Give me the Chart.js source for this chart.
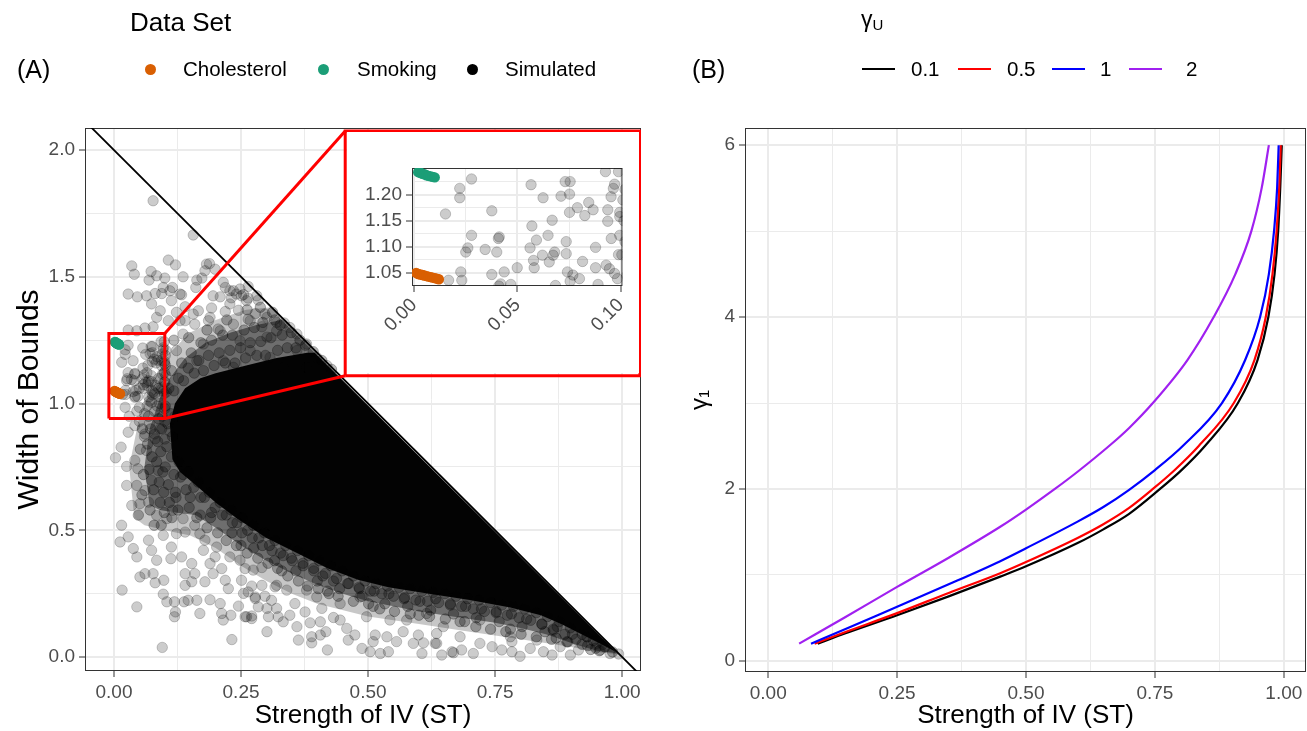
<!DOCTYPE html>
<html>
<head>
<meta charset="utf-8">
<script src="https://cdn.jsdelivr.net/npm/chart.js@4.4.1/dist/chart.umd.min.js"></script>
<style>
  body { margin: 0; background: #fff; width: 1307px; height: 731px; overflow: hidden; position: relative;
         font-family: 'Liberation Sans', Arial, Helvetica, sans-serif; }
  canvas { position: absolute; }
  .txt { position: absolute; white-space: nowrap; line-height: 1; color: #000; }
  .dot { position: absolute; width: 11px; height: 11px; border-radius: 50%; }
  .seg { position: absolute; width: 33px; height: 2.5px; }
</style>
</head>
<body>
<canvas id="left" width="650" height="731" style="left:0;top:0"></canvas>
<canvas id="right" width="657" height="731" style="left:650px;top:0"></canvas>
<canvas id="inset" width="292" height="241" style="left:347px;top:132px;background:#fff"></canvas>
<div id="legends"></div>
<script>
// ---------- panel A data ----------
const dataSetNames = ['Cholesterol', 'Smoking', 'Simulated'];
const dataSetColors = ['#D95F02', '#1B9E77', '#000000'];

const cholesterolPts = [[0.001,1.050],[0.002,1.048],[0.003,1.047],[0.004,1.046],[0.005,1.045],[0.006,1.044],
  [0.007,1.043],[0.008,1.042],[0.009,1.041],[0.010,1.040],[0.011,1.039],[0.012,1.038]];
const smokingPts = [[0.002,1.243],[0.003,1.242],[0.004,1.240],[0.005,1.239],[0.006,1.237],[0.007,1.236],
  [0.008,1.235],[0.009,1.234],[0.010,1.233]];

// simulated points lying apart from the main cloud
const simulatedSparse = [
  // upper left
  [0.077,1.800],[0.156,1.665],[0.035,1.543],[0.040,1.510],[0.107,1.566],[0.121,1.547],[0.073,1.521],[0.084,1.504],
  [0.100,1.495],[0.069,1.487],[0.136,1.500],[0.163,1.487],[0.179,1.524],[0.182,1.550],[0.199,1.530],[0.173,1.495],
  [0.028,1.432],[0.046,1.421],[0.064,1.425],[0.081,1.434],[0.094,1.434],[0.110,1.445],[0.115,1.458],[0.133,1.429],
  [0.161,1.458],[0.215,1.478],[0.219,1.458],[0.235,1.445],[0.248,1.452],[0.251,1.425],[0.195,1.425],[0.209,1.421],
  [0.231,1.417],[0.284,1.408],[0.264,1.416],[0.074,1.393],[0.091,1.366],[0.084,1.340],[0.113,1.406],[0.123,1.360],
  [0.140,1.382],[0.166,1.366],[0.192,1.377],[0.219,1.363],[0.245,1.368],[0.278,1.355],[0.301,1.340],[0.335,1.318],
  [0.028,1.290],[0.045,1.287],[0.061,1.298],[0.077,1.303],[0.107,1.327],[0.140,1.327],[0.159,1.313],[0.186,1.327],
  [0.205,1.294],[0.235,1.313],[0.264,1.333],[0.291,1.303],[0.320,1.287],[0.188,1.552],[0.228,1.445],[0.264,1.462],
  [0.255,1.430],[0.281,1.425],[0.261,1.406],[0.297,1.353],[0.320,1.320],[0.346,1.300],[0.360,1.274],[0.379,1.235],
  [0.399,1.182],[0.419,1.150],[0.333,1.143],[0.228,1.393],[0.241,1.432],[0.189,1.340],[0.156,1.353],[0.130,1.432],
  [0.097,1.458],[0.130,1.327],[0.268,1.327],[0.301,1.262],[0.209,1.287],[0.248,1.248],[0.176,1.235],[0.136,1.274],
  [0.268,1.209],[0.307,1.182],[0.360,1.209],[0.379,1.143],[0.123,1.209],[0.163,1.169],[0.215,1.169],[0.235,1.143],
  [0.041,1.025],[0.022,0.985],[0.050,0.985],[0.074,1.005],[0.060,0.960],[0.080,0.970],[0.090,1.000],[0.070,1.010],
  [0.095,0.950],[0.085,0.990],[0.030,0.950],[0.045,0.970],[0.065,0.990],[0.100,0.980],[0.100,0.930],[0.090,0.900],
  [0.070,0.920],[0.050,0.930],[0.080,0.880],[0.060,0.870],[0.100,0.860],[0.110,0.890],[0.120,0.950],
  // zoomed window (also shown in the inset)
  [0.0167,1.036],[0.0221,1.212],[0.0221,1.194],[0.0278,1.230],[0.0152,1.163],[0.0226,1.052],[0.0231,1.036],[0.025,1.090],
  [0.026,1.098],[0.0278,1.122],[0.0344,1.095],[0.0376,1.169],[0.040,1.090],[0.0408,1.116],[0.0412,1.119],[0.0376,1.047],
  [0.0436,1.052],[0.0419,1.029],[0.0468,1.028],[0.0499,1.060],[0.0566,1.219],[0.0570,1.140],[0.0592,1.113],[0.0561,1.098],
  [0.0578,1.074],[0.0581,1.060],[0.0624,1.194],[0.0621,1.084],[0.0648,1.122],[0.0668,1.151],[0.0654,1.071],[0.0673,1.084],
  [0.068,1.090],[0.0711,1.197],[0.0731,1.225],[0.0755,1.225],[0.0752,1.201],[0.0752,1.166],[0.0736,1.110],[0.0736,1.087],
  [0.0742,1.052],[0.0768,1.046],[0.079,1.175],[0.080,1.039],[0.0815,1.072],[0.0826,1.160],[0.0845,1.185],[0.0866,1.171],
  [0.0878,1.099],[0.0878,1.060],[0.089,1.028],[0.0926,1.244],[0.0937,1.171],[0.0937,1.149],[0.0953,1.196],[0.0964,1.212],
  [0.097,1.220],[0.0954,1.116],[0.0929,1.065],[0.0945,1.058],[0.097,1.049],[0.0984,1.039],[0.0989,1.244],[0.0995,1.166],
  [0.0995,1.158],[0.0995,1.122],[0.0989,1.085],[0.0755,1.034],[0.0684,1.026],[0.101,1.190],[0.102,1.210],[0.1015,1.150],
  [0.102,1.110],[0.1005,1.085],[0.103,1.045],
  // lower left
  [0.003,0.786],[0.014,0.828],[0.025,0.752],[0.041,0.776],[0.047,0.743],[0.025,0.677],[0.045,0.677],[0.035,0.598],
  [0.051,0.605],[0.015,0.520],[0.012,0.454],[0.028,0.474],[0.038,0.428],[0.045,0.395],[0.051,0.316],[0.061,0.329],
  [0.077,0.329],[0.081,0.293],[0.098,0.303],[0.016,0.264],[0.045,0.198],[0.095,0.038],[0.097,0.248],[0.104,0.218],
  [0.119,0.218],[0.121,0.178],[0.119,0.159],[0.138,0.218],[0.146,0.224],[0.163,0.224],[0.169,0.172],[0.140,0.283],
  [0.153,0.297],[0.159,0.329],[0.140,0.329],[0.133,0.395],[0.153,0.369],[0.113,0.434],[0.112,0.388],[0.084,0.382],
  [0.074,0.421],[0.068,0.461],[0.097,0.480],[0.123,0.487],[0.140,0.493],[0.159,0.520],[0.179,0.461],[0.176,0.421],
  [0.189,0.369],[0.195,0.329],[0.179,0.297],[0.189,0.226],[0.209,0.211],[0.212,0.172],[0.215,0.146],[0.230,0.165],
  [0.232,0.069],[0.245,0.201],[0.225,0.270],[0.219,0.303],[0.212,0.349],[0.228,0.395],[0.248,0.382],[0.251,0.303],
  [0.264,0.257],[0.258,0.159],[0.271,0.152],[0.278,0.237],[0.291,0.283],[0.301,0.100],[0.304,0.159],[0.284,0.198],
  [0.310,0.224],[0.320,0.283],[0.323,0.159],[0.115,0.579],[0.084,0.559],[0.068,0.611],[0.061,0.657],[0.074,0.697],
  [0.087,0.736],[0.064,0.815],[0.028,0.887],[0.041,0.913],[0.061,0.880],[0.081,0.861],[0.104,0.546],[0.136,0.546],
  [0.169,0.487],[0.199,0.395],[0.202,0.434],
  // bottom
  [0.258,0.349],[0.274,0.343],[0.291,0.353],[0.255,0.251],[0.271,0.280],[0.278,0.231],[0.297,0.240],[0.301,0.192],
  [0.261,0.159],[0.271,0.162],[0.317,0.277],[0.320,0.192],[0.333,0.139],[0.346,0.165],[0.356,0.211],[0.363,0.067],
  [0.376,0.178],[0.389,0.056],[0.386,0.135],[0.406,0.139],[0.406,0.087],[0.417,0.100],[0.409,0.192],[0.420,0.028],
  [0.432,0.156],[0.445,0.146],[0.458,0.113],[0.461,0.067],[0.474,0.087],[0.488,0.034],[0.504,0.021],[0.510,0.061],
  [0.514,0.087],[0.524,0.014],[0.540,0.021],[0.537,0.080],[0.556,0.061],[0.569,0.100],[0.589,0.054],[0.606,0.014],
  [0.609,0.056],[0.635,0.054],[0.645,0.008],[0.668,0.017],[0.599,0.087],[0.360,0.120],[0.389,0.080],[0.340,0.264],
  [0.379,0.264],[0.399,0.237],[0.445,0.211],[0.484,0.237],[0.497,0.159],[0.543,0.146],[0.576,0.146],[0.615,0.172],
  [0.648,0.120],[0.632,0.054],[0.665,0.021],[0.684,0.028],[0.707,0.014],[0.720,0.054],[0.744,0.041],[0.763,0.028],
  [0.783,0.021],[0.799,0.003],[0.819,0.034],[0.845,0.021],[0.862,0.008],[0.878,0.041],[0.898,0.008],[0.914,0.028],
  [0.957,0.028],[0.976,0.014],[0.993,0.012],[0.635,0.093],[0.681,0.080],[0.783,0.061],[0.832,0.067],[0.720,0.146],
  [0.780,0.080],[0.865,0.106],[0.930,0.080],[0.950,0.054]
];

// simulated points in the crowded band around the solid core (many overlaps)
const simulatedBand = [
  // above the core
  [0.101,0.99],[0.118,1.05],[0.137,1.09],[0.158,1.12],[0.176,1.13],[0.197,1.15],[0.219,1.16],[0.238,1.16],
  [0.259,1.18],[0.281,1.19],[0.298,1.19],[0.322,1.21],[0.341,1.22],[0.358,1.22],[0.377,1.23],[0.392,1.205],
  [0.409,1.17],[0.428,1.135],[0.108,1.06],[0.127,1.10],[0.146,1.14],[0.167,1.17],[0.186,1.19],[0.207,1.20],
  [0.228,1.21],[0.249,1.22],[0.268,1.24],[0.289,1.245],[0.309,1.26],[0.331,1.27],[0.349,1.28],[0.366,1.25],
  [0.113,1.13],[0.133,1.16],[0.152,1.20],[0.171,1.24],[0.192,1.25],[0.214,1.27],[0.233,1.27],[0.256,1.29],
  [0.276,1.30],[0.293,1.32],[0.316,1.33],[0.327,1.31],[0.118,1.25],[0.147,1.26],[0.183,1.29],[0.222,1.33],
  [0.262,1.37],[0.288,1.38],[0.312,1.36],
  // left of the core
  [0.112,0.96],[0.106,0.92],[0.115,0.87],[0.104,0.83],[0.113,0.79],[0.101,0.75],[0.118,0.72],[0.107,0.68],
  [0.121,0.65],[0.109,0.61],[0.126,0.58],[0.114,0.55],[0.088,0.94],[0.094,0.90],[0.086,0.85],[0.092,0.81],
  [0.084,0.77],[0.096,0.73],[0.089,0.69],[0.098,0.65],[0.091,0.61],[0.099,0.57],[0.093,0.52],[0.068,0.95],
  [0.072,0.90],[0.066,0.84],[0.075,0.79],[0.069,0.74],[0.078,0.66],[0.071,0.58],[0.079,0.52],[0.056,0.90],
  [0.052,0.82],[0.058,0.72],[0.055,0.64],[0.048,0.56],
  // below the core
  [0.128,0.77],[0.147,0.73],[0.166,0.69],[0.188,0.65],[0.209,0.61],[0.231,0.58],[0.252,0.55],[0.274,0.52],
  [0.296,0.49],[0.317,0.46],[0.338,0.44],[0.361,0.42],[0.383,0.40],[0.404,0.38],[0.427,0.36],[0.449,0.34],
  [0.471,0.32],[0.494,0.30],[0.516,0.29],[0.538,0.28],[0.561,0.275],[0.583,0.27],[0.606,0.26],[0.628,0.255],
  [0.651,0.25],[0.673,0.24],[0.696,0.23],[0.718,0.225],[0.741,0.215],[0.763,0.205],[0.786,0.20],[0.808,0.19],
  [0.831,0.175],[0.853,0.16],[0.876,0.14],[0.898,0.115],[0.921,0.09],[0.943,0.065],[0.966,0.04],
  [0.136,0.72],[0.157,0.67],[0.178,0.63],[0.199,0.59],[0.221,0.56],[0.242,0.53],[0.263,0.50],[0.285,0.47],
  [0.306,0.44],[0.328,0.41],[0.349,0.39],[0.372,0.37],[0.393,0.35],[0.416,0.33],[0.438,0.31],[0.460,0.29],
  [0.482,0.275],[0.505,0.26],[0.527,0.25],[0.550,0.24],[0.572,0.235],[0.594,0.225],[0.617,0.22],[0.639,0.215],
  [0.662,0.205],[0.684,0.20],[0.707,0.19],[0.729,0.18],[0.752,0.175],[0.774,0.165],[0.797,0.155],[0.820,0.145],
  [0.842,0.13],[0.864,0.11],[0.887,0.09],[0.909,0.07],[0.932,0.045],[0.955,0.025],
  [0.150,0.63],[0.190,0.55],[0.232,0.49],[0.275,0.43],[0.316,0.38],[0.358,0.34],[0.400,0.30],[0.444,0.27],
  [0.488,0.24],[0.533,0.21],[0.578,0.20],[0.623,0.185],[0.668,0.17],[0.713,0.155],[0.758,0.14],[0.803,0.12],
  [0.848,0.10],[0.893,0.06],[0.938,0.03],[0.170,0.56],[0.250,0.44],[0.330,0.34],[0.420,0.26],[0.510,0.20],
  [0.600,0.165],[0.690,0.14],[0.780,0.11],[0.870,0.075],
  [0.122,0.63],[0.131,0.71],[0.142,0.66],[0.148,0.59],[0.163,0.55],[0.171,0.63],[0.183,0.51],[0.192,0.57],
  [0.204,0.49],[0.213,0.56],[0.221,0.46],[0.233,0.53],[0.241,0.44],[0.252,0.49],[0.262,0.41],[0.272,0.47],
  [0.283,0.39],[0.292,0.44],[0.303,0.37],[0.311,0.42],[0.322,0.35],[0.333,0.40],[0.342,0.32],[0.351,0.38],
  [0.363,0.30],[0.372,0.36],[0.381,0.28],[0.393,0.34],[0.402,0.27],[0.411,0.32],[0.423,0.25],[0.432,0.30],
  [0.441,0.24],[0.462,0.29],[0.471,0.22],[0.483,0.27],[0.501,0.21],[0.512,0.26],[0.523,0.19],[0.541,0.25],
  [0.552,0.18],[0.571,0.23],[0.583,0.17],[0.602,0.22],[0.621,0.16],[0.633,0.23],[0.652,0.15],[0.662,0.21],
  [0.681,0.14],[0.692,0.20],[0.712,0.12],[0.723,0.19],[0.741,0.11],[0.752,0.18],[0.771,0.10],[0.782,0.17],
  [0.801,0.09],[0.812,0.15],[0.831,0.08],[0.842,0.13],[0.861,0.07],[0.872,0.12],[0.891,0.06],[0.902,0.09],
  [0.921,0.05],[0.931,0.08],[0.948,0.035],[0.962,0.05],[0.981,0.02]
];

// outlines of the overlap zones: solid core, dark grey halo, light grey outer halo
const denseCore = [[0.115,0.78],[0.11,0.92],[0.12,1.0],[0.14,1.06],[0.17,1.10],[0.20,1.12],[0.26,1.15],
  [0.32,1.18],[0.38,1.20],[0.395,1.20],[0.988,0.02],[0.96,0.05],[0.92,0.09],[0.88,0.13],[0.84,0.165],
  [0.78,0.195],[0.70,0.225],[0.62,0.25],[0.54,0.275],[0.48,0.305],[0.42,0.35],[0.36,0.41],[0.30,0.47],
  [0.24,0.55],[0.20,0.61],[0.16,0.68],[0.13,0.73],[0.115,0.78]];
const denseHalo = [[0.07,0.60],[0.06,0.75],[0.07,0.90],[0.09,1.02],[0.11,1.10],[0.14,1.18],[0.18,1.24],
  [0.23,1.28],[0.28,1.31],[0.33,1.33],[0.99,0.015],[0.95,0.025],[0.90,0.055],[0.85,0.09],[0.80,0.115],
  [0.75,0.135],[0.70,0.15],[0.65,0.165],[0.60,0.18],[0.55,0.20],[0.50,0.22],[0.45,0.25],[0.40,0.285],
  [0.35,0.33],[0.30,0.38],[0.25,0.44],[0.20,0.51],[0.16,0.56],[0.12,0.57],[0.09,0.58],[0.07,0.60]];
const outerHalo = [[0.04,0.55],[0.03,0.75],[0.05,0.95],[0.08,1.10],[0.11,1.20],[0.15,1.28],[0.20,1.33],
  [0.26,1.37],[0.31,1.38],[0.995,0.01],[0.95,0.02],[0.90,0.04],[0.80,0.07],[0.70,0.10],[0.60,0.13],
  [0.50,0.16],[0.40,0.21],[0.35,0.25],[0.30,0.30],[0.25,0.36],[0.20,0.43],[0.15,0.48],[0.10,0.50],
  [0.06,0.52],[0.04,0.55]];

const boundLine = [[-0.05,2.10],[1.04,-0.08]];
const zoomBox = [[-0.010,0.941],[0.100,0.941],[0.100,1.276],[-0.010,1.276],[-0.010,0.941]];
const insetFrame = [[0.455,1.110],[1.035,1.110],[1.035,2.075],[0.455,2.075],[0.455,1.110]];
const zoomLinkTop = [[0.100,1.276],[0.455,2.075]];
const zoomLinkBottom = [[0.100,0.941],[0.455,1.110]];

// ---------- panel B data ----------
const gammaULevels = ['0.1', '0.5', '1', '2'];
const gammaUColors = ['#000000', '#FF0000', '#0000FF', '#A020F0'];
const curve01 = [[0.096,0.2],[0.15,0.32],[0.25,0.53],[0.35,0.75],[0.45,0.98],[0.5,1.10],[0.6,1.37],[0.65,1.53],
  [0.7,1.71],[0.76,2.0],[0.8,2.21],[0.847,2.5],[0.911,3.0],[0.949,3.5],[0.970,4.0],[0.982,4.5],[0.989,5.0],
  [0.993,5.5],[0.996,6.0]];
const curve05 = [[0.09,0.2],[0.15,0.335],[0.25,0.555],[0.35,0.79],[0.45,1.02],[0.5,1.15],[0.6,1.43],[0.65,1.59],
  [0.7,1.78],[0.746,2.0],[0.79,2.23],[0.835,2.5],[0.903,3.0],[0.943,3.5],[0.965,4.0],[0.978,4.5],[0.986,5.0],
  [0.991,5.5],[0.994,6.0]];
const curve1 = [[0.083,0.2],[0.15,0.37],[0.25,0.63],[0.35,0.89],[0.45,1.16],[0.5,1.31],[0.6,1.62],[0.65,1.79],
  [0.7,1.99],[0.75,2.22],[0.804,2.5],[0.88,3.0],[0.925,3.5],[0.954,4.0],[0.971,4.5],[0.981,5.0],[0.987,5.5],
  [0.990,6.0]];
const curve2 = [[0.06,0.2],[0.15,0.51],[0.25,0.86],[0.35,1.2],[0.45,1.56],[0.5,1.76],[0.556,2.0],[0.6,2.2],
  [0.665,2.52],[0.7,2.71],[0.746,3.0],[0.813,3.5],[0.864,4.0],[0.906,4.5],[0.937,5.0],[0.957,5.5],[0.971,6.0]];
const gammaCurves = [curve01, curve05, curve1, curve2];

// ---------- ticks ----------
const stTicks = [0, 0.25, 0.5, 0.75, 1], stLabels = ['0.00', '0.25', '0.50', '0.75', '1.00'];
const stMinor = [0.125, 0.375, 0.625, 0.875];
const widthTicks = [0, 0.5, 1, 1.5, 2], widthLabels = ['0.0', '0.5', '1.0', '1.5', '2.0'];
const widthMinor = [0.25, 0.75, 1.25, 1.75];
const gammaTicks = [0, 2, 4, 6], gammaLabels = ['0', '2', '4', '6'], gammaMinor = [1, 3, 5];
const insetXTicks = [0, 0.05, 0.1], insetXLabels = ['0.00', '0.05', '0.10'], insetXMinor = [0.025, 0.075];
const insetYTicks = [1.05, 1.1, 1.15, 1.2], insetYLabels = ['1.05', '1.10', '1.15', '1.20'];
const insetYMinor = [1.075, 1.125, 1.175, 1.225];

const FONT = "'Liberation Sans', Arial, Helvetica, sans-serif";
const xy = pts => pts.map(p => ({x: p[0], y: p[1]}));

function axis(major, labels, minor, min, max, size, title, extra) {
  const isMajor = v => major.some(m => Math.abs(m - v) < 1e-9);
  const ax = {
    type: 'linear', min: min, max: max,
    afterBuildTicks: s => { s.ticks = major.concat(minor).sort((a, b) => a - b).map(v => ({value: v})); },
    afterFit: s => { if (s.isHorizontal()) s.height = size; else s.width = size; },
    ticks: {
      autoSkip: false, maxRotation: 0, minRotation: 0, padding: 4, color: '#4D4D4D',
      font: {family: FONT, size: 19},
      callback: v => { const i = major.findIndex(m => Math.abs(m - v) < 1e-9); return i < 0 ? '' : labels[i]; }
    },
    grid: {
      color: '#EBEBEB',
      lineWidth: c => (c.tick && isMajor(c.tick.value)) ? 2 : 1,
      tickLength: 6, tickWidth: 1,
      tickColor: c => (c.tick && isMajor(c.tick.value)) ? '#333333' : 'rgba(0,0,0,0)'
    },
    border: {display: false}
  };
  if (title) ax.title = title;
  if (extra) Object.assign(ax.ticks, extra);
  return ax;
}

const panelBorder = {
  id: 'panelBorder',
  beforeDatasetsDraw(chart) {
    const {ctx, chartArea: a} = chart;
    ctx.save();
    ctx.strokeStyle = '#333333';
    ctx.lineWidth = 1;
    ctx.strokeRect(a.left + 0.5, a.top + 0.5, a.width - 1, a.height - 1);
    ctx.restore();
  }
};

const common = {
  responsive: false, animation: false, devicePixelRatio: 1, events: [],
  plugins: {legend: {display: false}, tooltip: {enabled: false}}
};

const redLine = pts => ({type: 'line', data: xy(pts), borderColor: '#FF0000', borderWidth: 3,
  pointRadius: 0, fill: false, borderJoinStyle: 'miter', clip: 0});
const solidPts = (pts, col, r) => ({type: 'scatter', data: xy(pts), backgroundColor: col, borderColor: col,
  borderWidth: 0, pointRadius: r, clip: 0});
const simPts = (pts, a, r) => ({type: 'scatter', data: xy(pts), backgroundColor: 'rgba(0,0,0,' + a + ')',
  borderColor: 'rgba(0,0,0,' + a + ')', borderWidth: 1, pointRadius: r, clip: 0});
const area = (pts, a) => ({type: 'line', data: xy(pts), backgroundColor: 'rgba(0,0,0,' + a + ')',
  borderWidth: 0, pointRadius: 0, fill: 'shape', clip: 0});

// ---------- panel A ----------
new Chart(document.getElementById('left'), {
  type: 'scatter',
  data: {
    datasets: [
      redLine(insetFrame), redLine(zoomBox), redLine(zoomLinkTop), redLine(zoomLinkBottom),
      {type: 'line', data: xy(boundLine), borderColor: '#000', borderWidth: 1.8, pointRadius: 0, fill: false, clip: 0},
      solidPts(cholesterolPts, dataSetColors[0], 5.2),
      solidPts(smokingPts, dataSetColors[1], 5.2),
      simPts(simulatedSparse, 0.2, 5.2),
      simPts(simulatedBand, 0.28, 5.2),
      area(denseCore, 0.97),
      area(denseHalo, 0.45),
      area(outerHalo, 0.22)
    ]
  },
  options: Object.assign({}, common, {
    layout: {padding: {top: 128, right: 9, bottom: 0, left: 0}},
    scales: {
      x: axis(stTicks, stLabels, stMinor, -0.057, 1.037, 60,
        {display: true, text: 'Strength of IV (ST)', color: '#000', font: {family: FONT, size: 26}, padding: {top: 0, bottom: 0}}),
      y: axis(widthTicks, widthLabels, widthMinor, -0.055, 2.087, 85,
        {display: true, text: 'Width of Bounds', color: '#000', font: {family: FONT, size: 30}, padding: {top: 12, bottom: 0}})
    }
  }),
  plugins: [panelBorder]
});

// ---------- inset of panel A ----------
new Chart(document.getElementById('inset'), {
  type: 'scatter',
  data: {
    datasets: [
      solidPts(cholesterolPts, dataSetColors[0], 5.2),
      solidPts(smokingPts, dataSetColors[1], 5.2),
      simPts(simulatedSparse, 0.2, 5.2),
      simPts(simulatedBand, 0.28, 5.2)
    ]
  },
  options: Object.assign({}, common, {
    layout: {padding: {top: 36, right: 12, bottom: 0, left: 0}},
    scales: {
      x: axis(insetXTicks, insetXLabels, insetXMinor, -0.001, 0.1008, 87, null, {minRotation: 45, maxRotation: 45, padding: 2}),
      y: axis(insetYTicks, insetYLabels, insetYMinor, 1.025, 1.251, 65, null)
    }
  }),
  plugins: [panelBorder]
});

// ---------- panel B ----------
new Chart(document.getElementById('right'), {
  type: 'scatter',
  data: {
    datasets: gammaCurves.map((c, i) => ({
      type: 'line', label: gammaULevels[i], data: xy(c), borderColor: gammaUColors[i], borderWidth: 2.2,
      pointRadius: 0, fill: false, cubicInterpolationMode: 'monotone', order: gammaCurves.length - i
    }))
  },
  options: Object.assign({}, common, {
    layout: {padding: {top: 128, right: 1, bottom: 0, left: 0}},
    scales: {
      x: axis(stTicks, stLabels, stMinor, -0.045, 1.043, 59,
        {display: true, text: 'Strength of IV (ST)', color: '#000', font: {family: FONT, size: 26}, padding: {top: 0, bottom: 0}}),
      y: axis(gammaTicks, gammaLabels, gammaMinor, -0.13, 6.2, 95,
        {display: true, text: 'γ\u2081', color: '#000', font: {family: FONT, size: 24}, padding: {top: 36, bottom: 0}})
    }
  }),
  plugins: [panelBorder]
});

// ---------- legends and panel tags ----------
const leg = document.getElementById('legends');
function addText(text, left, top, size, html) {
  const d = document.createElement('div');
  d.className = 'txt';
  d.style.left = left + 'px'; d.style.top = top + 'px'; d.style.fontSize = size + 'px';
  if (html) d.innerHTML = text; else d.textContent = text;
  leg.appendChild(d);
}
addText('Data Set', 130, 9, 26);
addText('(A)', 17, 57, 25);
const dotX = [150, 323, 472], labelX = [183, 357, 505];
dataSetNames.forEach((n, i) => {
  const d = document.createElement('div');
  d.className = 'dot';
  d.style.left = (dotX[i] - 5.5) + 'px'; d.style.top = (69 - 5.5) + 'px'; d.style.background = dataSetColors[i];
  leg.appendChild(d);
  addText(n, labelX[i], 59, 20.5);
});
addText('γ<sub style="font-size:15px;vertical-align:-3px">U</sub>', 861, 8, 23, true);
addText('(B)', 692, 57, 25);
const segX = [862, 958, 1052, 1129], segLabelX = [911, 1007, 1100, 1186];
gammaULevels.forEach((n, i) => {
  const s = document.createElement('div');
  s.className = 'seg';
  s.style.left = segX[i] + 'px'; s.style.top = '67.5px'; s.style.background = gammaUColors[i];
  leg.appendChild(s);
  addText(n, segLabelX[i], 59, 20.5);
});
</script>
</body>
</html>
